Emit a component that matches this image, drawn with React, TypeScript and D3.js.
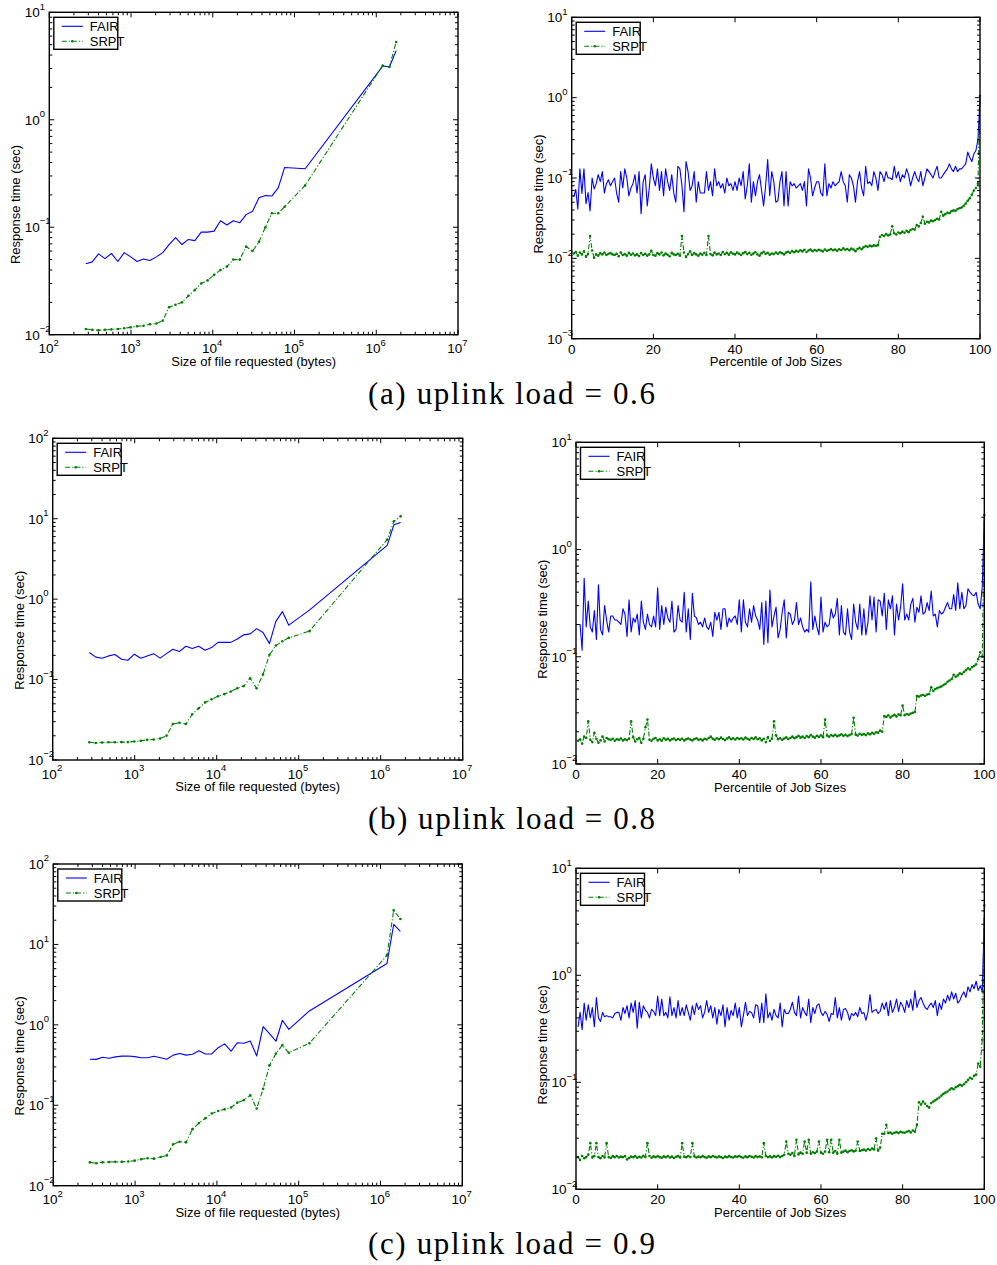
import React from 'react';
import * as d3 from 'd3';

// ---------- Data ----------
const FILE_SIZES = [280, 335, 400, 480, 575, 690, 825, 990, 1185, 1420, 1700, 2040, 2440, 2920, 3500, 4200, 5030, 6030, 7220, 8650, 10370, 12420, 14880, 17830, 21360, 25590, 30660, 36730, 44000, 52700, 63200, 75700, 135000, 1200000, 1450000, 1750000];

const FAIR_06_SIZE = [0.0458, 0.0476, 0.0565, 0.051, 0.057, 0.048, 0.058, 0.053, 0.048, 0.0507, 0.049, 0.053, 0.058, 0.069, 0.080, 0.069, 0.077, 0.075, 0.090, 0.090, 0.092, 0.115, 0.105, 0.115, 0.11, 0.131, 0.141, 0.188, 0.197, 0.195, 0.232, 0.36, 0.35, 3.16, 3.1, 4.4];
const SRPT_06_SIZE = [0.0113, 0.0111, 0.0110, 0.0111, 0.0112, 0.0113, 0.0115, 0.0117, 0.0120, 0.0121, 0.0125, 0.0127, 0.0135, 0.018, 0.019, 0.020, 0.023, 0.026, 0.030, 0.032, 0.036, 0.040, 0.043, 0.050, 0.050, 0.066, 0.060, 0.073, 0.10, 0.135, 0.135, 0.155, 0.245, 3.2, 3.1, 5.3];

const FAIR_08_SIZE = [0.217, 0.19, 0.184, 0.197, 0.205, 0.179, 0.174, 0.207, 0.184, 0.197, 0.21, 0.185, 0.21, 0.238, 0.223, 0.26, 0.243, 0.26, 0.232, 0.25, 0.29, 0.29, 0.29, 0.32, 0.36, 0.37, 0.43, 0.385, 0.28, 0.53, 0.70, 0.475, 0.73, 4.66, 8.4, 9.0];
const SRPT_08_SIZE = [0.0166, 0.0163, 0.0165, 0.0166, 0.0166, 0.0167, 0.0167, 0.0170, 0.0173, 0.0178, 0.0180, 0.0185, 0.020, 0.028, 0.029, 0.028, 0.037, 0.044, 0.052, 0.057, 0.062, 0.066, 0.071, 0.078, 0.083, 0.104, 0.078, 0.116, 0.203, 0.265, 0.30, 0.33, 0.40, 5.5, 9.3, 10.7];

const FAIR_09_SIZE = [0.374, 0.372, 0.396, 0.385, 0.40, 0.408, 0.41, 0.403, 0.39, 0.39, 0.408, 0.39, 0.374, 0.42, 0.44, 0.42, 0.43, 0.475, 0.435, 0.435, 0.52, 0.58, 0.47, 0.60, 0.59, 0.63, 0.41, 0.95, 0.78, 0.625, 1.14, 0.88, 1.49, 5.8, 17.7, 14.5];
const SRPT_09_SIZE = [0.0195, 0.019, 0.0195, 0.0197, 0.0198, 0.0198, 0.020, 0.0205, 0.0213, 0.0219, 0.0217, 0.0227, 0.0238, 0.0327, 0.0352, 0.0346, 0.0505, 0.060, 0.069, 0.079, 0.085, 0.089, 0.094, 0.108, 0.116, 0.133, 0.091, 0.16, 0.315, 0.44, 0.56, 0.45, 0.59, 7.3, 26.5, 20.7];

// percentiles 0.5 .. 100 (step 0.5)
const PERCENTILES = d3.range(1, 201).map((i) => i * 0.5);

const FAIR_06_PCT = [
  0.058, 0.072, 0.041, 0.13, 0.064, 0.13, 0.048, 0.066, 0.039, 0.10, 0.073, 0.085, 0.11, 0.09, 0.12, 0.065, 0.085, 0.095, 0.08, 0.09,
  0.10, 0.065, 0.05, 0.12, 0.075, 0.13, 0.10, 0.06, 0.075, 0.085, 0.11, 0.065, 0.12, 0.036, 0.09, 0.11, 0.045, 0.075, 0.15, 0.10,
  0.08, 0.13, 0.07, 0.12, 0.06, 0.13, 0.09, 0.07, 0.11, 0.065, 0.05, 0.14, 0.13, 0.08, 0.038, 0.16, 0.12, 0.07, 0.08, 0.12,
  0.05, 0.09, 0.065, 0.065, 0.065, 0.12, 0.07, 0.09, 0.06, 0.13, 0.08, 0.09, 0.075, 0.085, 0.065, 0.10, 0.08, 0.085, 0.07, 0.09,
  0.07, 0.10, 0.08, 0.12, 0.055, 0.08, 0.15, 0.05, 0.09, 0.06, 0.09, 0.11, 0.07, 0.045, 0.08, 0.17, 0.06, 0.12, 0.09, 0.05,
  0.052, 0.09, 0.12, 0.045, 0.12, 0.045, 0.09, 0.08, 0.085, 0.075, 0.08, 0.085, 0.07, 0.09, 0.045, 0.13, 0.10, 0.06, 0.075, 0.09,
  0.09, 0.065, 0.060, 0.15, 0.06, 0.085, 0.075, 0.09, 0.08, 0.085, 0.09, 0.12, 0.09, 0.08, 0.05, 0.11, 0.10, 0.08, 0.05, 0.09,
  0.12, 0.075, 0.06, 0.14, 0.085, 0.09, 0.08, 0.12, 0.10, 0.07, 0.12, 0.11, 0.09, 0.12, 0.10, 0.10, 0.095, 0.14, 0.10, 0.12,
  0.09, 0.11, 0.10, 0.13, 0.11, 0.08, 0.10, 0.12, 0.10, 0.09, 0.12, 0.08, 0.10, 0.13, 0.12, 0.11, 0.10, 0.12, 0.14, 0.10,
  0.10, 0.11, 0.12, 0.13, 0.15, 0.13, 0.12, 0.14, 0.12, 0.13, 0.13, 0.14, 0.15, 0.21, 0.18, 0.16, 0.2, 0.22, 0.3, 1.0,
];
const SRPT_06_PCT = [
  0.0115, 0.0120, 0.0108, 0.0118, 0.0112, 0.0122, 0.0105, 0.0113, 0.019, 0.0125, 0.0102, 0.0112, 0.0108, 0.0116, 0.0112, 0.0118, 0.0110, 0.0114, 0.0116, 0.0112,
  0.0110, 0.0114, 0.0106, 0.0118, 0.0110, 0.0113, 0.0108, 0.0117, 0.0111, 0.0115, 0.0109, 0.0112, 0.0107, 0.0116, 0.0110, 0.0114, 0.0108, 0.0112, 0.0124, 0.0110,
  0.0108, 0.0116, 0.0112, 0.0118, 0.0109, 0.0115, 0.0111, 0.0106, 0.0117, 0.0112, 0.0110, 0.0114, 0.0108, 0.019, 0.0118, 0.0104, 0.0113, 0.0122, 0.0110, 0.0116,
  0.0112, 0.0108, 0.0115, 0.0111, 0.0117, 0.0110, 0.019, 0.0113, 0.0109, 0.0118, 0.0112, 0.0115, 0.0110, 0.0120, 0.0113, 0.0117, 0.0111, 0.0119, 0.0114, 0.0112,
  0.0118, 0.0114, 0.0110, 0.0116, 0.0120, 0.0113, 0.0117, 0.0111, 0.0115, 0.0119, 0.0112, 0.0108, 0.0116, 0.0121, 0.0114, 0.0117, 0.0111, 0.0115, 0.0113, 0.0118,
  0.0114, 0.0119, 0.0116, 0.0112, 0.0118, 0.0121, 0.0117, 0.0123, 0.0119, 0.0124, 0.0121, 0.0126, 0.0122, 0.0128, 0.0120, 0.0125, 0.0129, 0.0123, 0.0127, 0.0124,
  0.0128, 0.0125, 0.0122, 0.0129, 0.0124, 0.0127, 0.0131, 0.0126, 0.0129, 0.0124, 0.0130, 0.0127, 0.0133, 0.0128, 0.0131, 0.0126, 0.0132, 0.0129, 0.0123, 0.0131,
  0.0135, 0.0130, 0.0137, 0.0142, 0.0139, 0.0144, 0.0141, 0.0145, 0.0143, 0.0146, 0.0185, 0.0195, 0.0190, 0.0200, 0.0193, 0.0198, 0.025, 0.0205, 0.0198, 0.0210,
  0.0205, 0.0215, 0.0208, 0.0220, 0.0212, 0.0225, 0.0232, 0.0228, 0.0260, 0.0250, 0.0275, 0.033, 0.0270, 0.0285, 0.0280, 0.0295, 0.0290, 0.0300, 0.0310, 0.0305,
  0.0380, 0.0340, 0.0355, 0.0370, 0.0365, 0.0385, 0.0395, 0.0390, 0.0410, 0.0420, 0.0430, 0.0450, 0.0480, 0.0520, 0.0560, 0.0620, 0.0700, 0.075, 0.085, 1.05,
];

const FAIR_08_PCT = [
  0.20, 0.20, 0.115, 0.54, 0.19, 0.33, 0.19, 0.17, 0.27, 0.145, 0.47, 0.18, 0.16, 0.30, 0.22, 0.17, 0.24, 0.24, 0.22, 0.22,
  0.21, 0.20, 0.28, 0.25, 0.155, 0.34, 0.17, 0.23, 0.21, 0.25, 0.16, 0.33, 0.21, 0.18, 0.25, 0.20, 0.19, 0.24, 0.19, 0.44,
  0.18, 0.30, 0.20, 0.29, 0.23, 0.21, 0.33, 0.17, 0.18, 0.30, 0.22, 0.21, 0.40, 0.17, 0.28, 0.145, 0.39, 0.24, 0.23, 0.20,
  0.21, 0.19, 0.23, 0.19, 0.18, 0.21, 0.155, 0.26, 0.22, 0.26, 0.18, 0.28, 0.28, 0.19, 0.23, 0.21, 0.23, 0.24, 0.20, 0.34,
  0.17, 0.34, 0.21, 0.19, 0.28, 0.21, 0.30, 0.24, 0.22, 0.18, 0.32, 0.13, 0.33, 0.135, 0.42, 0.19, 0.24, 0.29, 0.15, 0.18,
  0.26, 0.34, 0.15, 0.26, 0.25, 0.20, 0.22, 0.32, 0.20, 0.23, 0.19, 0.17, 0.18, 0.17, 0.50, 0.18, 0.24, 0.19, 0.16, 0.36,
  0.17, 0.21, 0.19, 0.20, 0.28, 0.23, 0.25, 0.35, 0.16, 0.30, 0.17, 0.16, 0.28, 0.17, 0.145, 0.31, 0.21, 0.18, 0.31, 0.16,
  0.28, 0.16, 0.21, 0.37, 0.22, 0.36, 0.17, 0.34, 0.33, 0.24, 0.39, 0.18, 0.34, 0.28, 0.37, 0.16, 0.31, 0.22, 0.29, 0.48,
  0.22, 0.25, 0.22, 0.31, 0.35, 0.21, 0.29, 0.26, 0.37, 0.25, 0.26, 0.32, 0.27, 0.41, 0.24, 0.25, 0.19, 0.27, 0.25, 0.26,
  0.29, 0.32, 0.28, 0.28, 0.38, 0.27, 0.49, 0.28, 0.40, 0.28, 0.30, 0.43, 0.40, 0.38, 0.37, 0.40, 0.31, 0.28, 0.45, 2.0,
];
const SRPT_08_PCT = [
  0.0165, 0.0170, 0.0155, 0.0180, 0.0175, 0.025, 0.0168, 0.0160, 0.0195, 0.0172, 0.0158, 0.0166, 0.0180, 0.0162, 0.0175, 0.0170, 0.0168, 0.0172, 0.0165, 0.0170,
  0.0168, 0.0173, 0.0166, 0.0170, 0.0167, 0.0172, 0.025, 0.0178, 0.0162, 0.0170, 0.0175, 0.0158, 0.0172, 0.022, 0.026, 0.0168, 0.0165, 0.0172, 0.0175, 0.0166,
  0.0170, 0.0165, 0.0174, 0.0168, 0.0172, 0.0166, 0.0170, 0.0173, 0.0167, 0.0171, 0.0168, 0.0172, 0.0166, 0.0170, 0.0173, 0.0169, 0.0166, 0.0171, 0.0174, 0.0168,
  0.0170, 0.0166, 0.0172, 0.0169, 0.0175, 0.0180, 0.0172, 0.0168, 0.0174, 0.0170, 0.0176, 0.0171, 0.0167, 0.0173, 0.0177, 0.0170, 0.0174, 0.0169, 0.0175, 0.0171,
  0.0174, 0.0169, 0.0176, 0.0172, 0.0168, 0.0175, 0.0171, 0.0177, 0.0170, 0.0174, 0.0166, 0.0172, 0.0160, 0.0178, 0.0165, 0.0172, 0.025, 0.0185, 0.0170, 0.0174,
  0.0168, 0.0173, 0.0177, 0.0171, 0.0175, 0.0180, 0.0174, 0.0178, 0.0183, 0.0176, 0.0180, 0.0175, 0.0182, 0.0178, 0.0186, 0.0180, 0.0176, 0.0183, 0.0179, 0.0185,
  0.0178, 0.026, 0.0184, 0.0180, 0.0186, 0.0182, 0.0187, 0.0181, 0.0185, 0.0189, 0.0183, 0.0187, 0.0182, 0.0186, 0.0190, 0.027, 0.0188, 0.0184, 0.0191, 0.0187,
  0.0190, 0.0186, 0.0193, 0.0189, 0.0195, 0.0191, 0.0198, 0.0196, 0.0205, 0.0200, 0.028, 0.0275, 0.0285, 0.0272, 0.0280, 0.0288, 0.0278, 0.0290, 0.0285, 0.035,
  0.0285, 0.0292, 0.0288, 0.0296, 0.0300, 0.0305, 0.043, 0.0425, 0.0435, 0.0440, 0.0432, 0.0445, 0.0450, 0.052, 0.0480, 0.0500, 0.0510, 0.0520, 0.0530, 0.0545,
  0.0560, 0.0585, 0.0600, 0.0620, 0.0680, 0.0650, 0.0670, 0.0700, 0.0690, 0.0720, 0.0750, 0.0780, 0.0760, 0.0800, 0.0820, 0.0850, 0.095, 0.110, 0.100, 2.1,
];

const FAIR_09_PCT = [
  0.33, 0.45, 0.31, 0.55, 0.38, 0.53, 0.40, 0.50, 0.33, 0.62, 0.40, 0.37, 0.45, 0.41, 0.42, 0.41, 0.41, 0.40, 0.44, 0.45,
  0.45, 0.38, 0.50, 0.44, 0.52, 0.40, 0.55, 0.45, 0.58, 0.32, 0.56, 0.40, 0.52, 0.47, 0.45, 0.40, 0.48, 0.46, 0.42, 0.64,
  0.42, 0.60, 0.42, 0.45, 0.40, 0.63, 0.42, 0.50, 0.40, 0.58, 0.42, 0.50, 0.42, 0.53, 0.45, 0.38, 0.52, 0.43, 0.55, 0.48,
  0.52, 0.40, 0.45, 0.58, 0.45, 0.52, 0.40, 0.50, 0.35, 0.48, 0.42, 0.53, 0.33, 0.50, 0.38, 0.47, 0.42, 0.55, 0.40, 0.50,
  0.33, 0.42, 0.56, 0.42, 0.46, 0.45, 0.40, 0.53, 0.52, 0.36, 0.55, 0.36, 0.67, 0.40, 0.45, 0.38, 0.48, 0.42, 0.40, 0.55,
  0.33, 0.48, 0.44, 0.44, 0.48, 0.56, 0.45, 0.42, 0.64, 0.40, 0.50, 0.45, 0.42, 0.60, 0.36, 0.50, 0.44, 0.52, 0.54, 0.45,
  0.42, 0.46, 0.43, 0.37, 0.44, 0.43, 0.62, 0.40, 0.50, 0.38, 0.48, 0.49, 0.45, 0.38, 0.44, 0.42, 0.45, 0.41, 0.50, 0.44,
  0.45, 0.38, 0.45, 0.66, 0.45, 0.47, 0.48, 0.44, 0.46, 0.55, 0.48, 0.56, 0.42, 0.58, 0.45, 0.50, 0.60, 0.46, 0.56, 0.52,
  0.45, 0.58, 0.50, 0.60, 0.47, 0.72, 0.50, 0.58, 0.62, 0.55, 0.50, 0.48, 0.52, 0.55, 0.50, 0.58, 0.42, 0.55, 0.48, 0.60,
  0.55, 0.65, 0.58, 0.70, 0.60, 0.68, 0.55, 0.58, 0.65, 0.70, 0.62, 0.78, 0.70, 0.82, 0.75, 0.88, 0.72, 0.80, 0.70, 3.5,
];
const SRPT_09_PCT = [
  0.0200, 0.0188, 0.0205, 0.0195, 0.0200, 0.0210, 0.027, 0.0198, 0.0205, 0.027, 0.0200, 0.0195, 0.0205, 0.0198, 0.027, 0.0200, 0.0196, 0.0204, 0.0199, 0.0205,
  0.0198, 0.0202, 0.0200, 0.0205, 0.0190, 0.0196, 0.0202, 0.0199, 0.0204, 0.0197, 0.0201, 0.0198, 0.0206, 0.0200, 0.027, 0.0205, 0.0197, 0.0203, 0.0199, 0.0204,
  0.0200, 0.0197, 0.0203, 0.0199, 0.0205, 0.0198, 0.0202, 0.0196, 0.0201, 0.0204, 0.0198, 0.027, 0.0202, 0.0199, 0.0205, 0.0200, 0.027, 0.0203, 0.0198, 0.0202,
  0.0199, 0.0204, 0.0200, 0.0197, 0.0203, 0.0199, 0.0205, 0.0201, 0.0198, 0.0203, 0.0200, 0.0196, 0.0202, 0.0199, 0.0204, 0.0200, 0.0198, 0.0203, 0.0201, 0.0205,
  0.0200, 0.0197, 0.0203, 0.0199, 0.0205, 0.0201, 0.0198, 0.0204, 0.0200, 0.0203, 0.0199, 0.027, 0.0205, 0.0200, 0.0203, 0.0198, 0.0204, 0.0201, 0.0206, 0.0200,
  0.0205, 0.0210, 0.028, 0.0215, 0.0210, 0.0218, 0.0205, 0.029, 0.0212, 0.0220, 0.0215, 0.028, 0.0220, 0.029, 0.0215, 0.0222, 0.0218, 0.0225, 0.028, 0.0220,
  0.0215, 0.0225, 0.029, 0.0222, 0.029, 0.0220, 0.0228, 0.0215, 0.029, 0.0220, 0.0225, 0.0230, 0.0222, 0.0228, 0.0232, 0.0226, 0.0230, 0.028, 0.0228, 0.0232,
  0.0235, 0.0230, 0.0238, 0.0233, 0.0240, 0.0236, 0.030, 0.0230, 0.0245, 0.033, 0.0330, 0.040, 0.0335, 0.0340, 0.0330, 0.0338, 0.0342, 0.0335, 0.0345, 0.0340,
  0.0338, 0.0345, 0.0350, 0.0340, 0.0355, 0.0345, 0.040, 0.065, 0.062, 0.066, 0.063, 0.060, 0.058, 0.064, 0.066, 0.068, 0.070, 0.072, 0.075, 0.078,
  0.080, 0.082, 0.085, 0.088, 0.086, 0.090, 0.092, 0.095, 0.093, 0.096, 0.100, 0.105, 0.110, 0.108, 0.115, 0.118, 0.150, 0.140, 0.250, 4.5,
];

const CAPTIONS = ['(a) uplink load = 0.6', '(b) uplink load = 0.8', '(c) uplink load = 0.9'];
const SERIES_NAMES = ['FAIR', 'SRPT'];
const X_LABEL_SIZE = 'Size of file requested (bytes)';
const X_LABEL_PCT = 'Percentile of Job Sizes';
const Y_LABEL = 'Response time (sec)';
const PCT_TICKS = [0, 20, 40, 60, 80, 100];

// ---------- Layout ----------
type PanelCfg = {
  kind: 'size' | 'pct';
  box: [number, number, number, number];
  yDomain: [number, number];
  xs: number[];
  fair: number[];
  srpt: number[];
};

const PANELS: PanelCfg[] = [
  { kind: 'size', box: [49.3, 12.3, 458, 334.7], yDomain: [1e-2, 1e1], xs: FILE_SIZES, fair: FAIR_06_SIZE, srpt: SRPT_06_SIZE },
  { kind: 'pct', box: [571.7, 17.3, 980, 338.7], yDomain: [1e-3, 1e1], xs: PERCENTILES, fair: FAIR_06_PCT, srpt: SRPT_06_PCT },
  { kind: 'size', box: [52.7, 438.3, 462.7, 760], yDomain: [1e-2, 1e2], xs: FILE_SIZES, fair: FAIR_08_SIZE, srpt: SRPT_08_SIZE },
  { kind: 'pct', box: [576, 442.3, 984.3, 764], yDomain: [1e-2, 1e1], xs: PERCENTILES, fair: FAIR_08_PCT, srpt: SRPT_08_PCT },
  { kind: 'size', box: [53.3, 864, 462.3, 1185.7], yDomain: [1e-2, 1e2], xs: FILE_SIZES, fair: FAIR_09_SIZE, srpt: SRPT_09_SIZE },
  { kind: 'pct', box: [576, 868.3, 984.3, 1189.3], yDomain: [1e-2, 1e1], xs: PERCENTILES, fair: FAIR_09_PCT, srpt: SRPT_09_PCT },
];
const CAPTION_Y = [404, 829, 1254];

const SANS = '"Liberation Sans", Arial, Helvetica, sans-serif';
const BLUE = '#0000ff';
const GREEN = '#007f00';
const FS = 13.5;
const SUP = 9.5;

function exponentStr(v: number) {
  const e = Math.round(Math.log10(v));
  return e < 0 ? '\u2212' + Math.abs(e) : String(e);
}

function isMajor(v: number) {
  const l = Math.log10(v);
  return Math.abs(l - Math.round(l)) < 1e-9;
}

function Panel({ p }: { p: PanelCfg }) {
  const [x0, y0, x1, y1] = p.box;
  const y = d3.scaleLog().domain(p.yDomain).range([y1, y0]);
  const xLog = d3.scaleLog().domain([1e2, 1e7]).range([x0, x1]);
  const xLin = d3.scaleLinear().domain([0, 100]).range([x0, x1]);
  const x = (v: number) => (p.kind === 'size' ? xLog(v) : xLin(v));

  const fairPts: [number, number][] = p.xs.map((v, i) => [v, p.fair[i]]);
  const srptPts: [number, number][] = p.xs.map((v, i) => [v, p.srpt[i]]);
  const line = d3
    .line<[number, number]>()
    .x((d) => x(d[0]))
    .y((d) => y(d[1]));

  const yTicks = y.ticks(20);
  const xTicksLog = xLog.ticks(20);

  const majLen = 5;
  const minLen = 3;
  const tickEls: JSX.Element[] = [];
  yTicks.forEach((t, i) => {
    const len = isMajor(t) ? majLen : minLen;
    const ty = y(t);
    if (ty < y0 - 0.1 || ty > y1 + 0.1) return;
    tickEls.push(<line key={'yl' + i} x1={x0} x2={x0 + len} y1={ty} y2={ty} />);
    tickEls.push(<line key={'yr' + i} x1={x1} x2={x1 - len} y1={ty} y2={ty} />);
  });
  if (p.kind === 'size') {
    xTicksLog.forEach((t, i) => {
      const len = isMajor(t) ? majLen : minLen;
      const tx = xLog(t);
      tickEls.push(<line key={'xb' + i} x1={tx} x2={tx} y1={y1} y2={y1 - len} />);
      tickEls.push(<line key={'xt' + i} x1={tx} x2={tx} y1={y0} y2={y0 + len} />);
    });
  } else {
    PCT_TICKS.forEach((t, i) => {
      const tx = xLin(t);
      tickEls.push(<line key={'xb' + i} x1={tx} x2={tx} y1={y1} y2={y1 - majLen} />);
      tickEls.push(<line key={'xt' + i} x1={tx} x2={tx} y1={y0} y2={y0 + majLen} />);
    });
  }

  const yLabels = yTicks.filter(isMajor).map((t, i) => {
    const ty = y(t);
    const ax = x0 - 9.5;
    return (
      <g key={'ylab' + i} fontFamily={SANS} fill="#000">
        <text x={ax} y={ty + 4.8} fontSize={FS} textAnchor="end">10</text>
        <text x={ax} y={ty - 2.8} fontSize={SUP} textAnchor="start">{exponentStr(t)}</text>
      </g>
    );
  });

  const xLabels =
    p.kind === 'size'
      ? xTicksLog.filter(isMajor).map((t, i) => {
          const tx = xLog(t);
          return (
            <g key={'xlab' + i} fontFamily={SANS} fill="#000">
              <text x={tx + 4.2} y={y1 + 18.5} fontSize={FS} textAnchor="end">10</text>
              <text x={tx + 4.2} y={y1 + 10.8} fontSize={SUP} textAnchor="start">{exponentStr(t)}</text>
            </g>
          );
        })
      : PCT_TICKS.map((t, i) => (
          <text key={'xlab' + i} x={xLin(t)} y={y1 + 15} fontSize={FS} textAnchor="middle" fontFamily={SANS}>
            {t}
          </text>
        ));

  const cx = (x0 + x1) / 2;
  const cyLabel = (y0 + y1) / 2 + (p.kind === 'size' ? 31 : 16);
  const lx = x0 + 4.5;
  const ly = y0 + 5;

  return (
    <g>
      <path d={line(fairPts) || ''} fill="none" stroke={BLUE} strokeWidth={1.1} strokeLinejoin="round" />
      <path d={line(srptPts) || ''} fill="none" stroke={GREEN} strokeWidth={1.1} strokeDasharray="5,2,1.2,2" />
      {srptPts.map((d, i) => (
        <circle key={'m' + i} cx={x(d[0])} cy={y(d[1])} r={1.3} fill={GREEN} />
      ))}
      <rect x={x0} y={y0} width={x1 - x0} height={y1 - y0} fill="none" stroke="#000" strokeWidth={1.4} />
      <g stroke="#000" strokeWidth={1}>{tickEls}</g>
      {yLabels}
      {xLabels}
      <text x={cx} y={y1 + (p.kind === 'size' ? 31 : 27.5)} fontSize={13} textAnchor="middle" fontFamily={SANS}>
        {p.kind === 'size' ? X_LABEL_SIZE : X_LABEL_PCT}
      </text>
      <text
        transform={`translate(${x0 - 29},${cyLabel}) rotate(-90)`}
        fontSize={13}
        textAnchor="middle"
        fontFamily={SANS}
      >
        {Y_LABEL}
      </text>
      {/* legend */}
      <rect x={lx} y={ly} width={64} height={32} fill="#fff" stroke="#000" strokeWidth={1.4} />
      <line x1={lx + 8} x2={lx + 29} y1={ly + 9} y2={ly + 9} stroke={BLUE} strokeWidth={1.1} />
      <line x1={lx + 8} x2={lx + 29} y1={ly + 24} y2={ly + 24} stroke={GREEN} strokeWidth={1.1} strokeDasharray="5,2,1.2,2" />
      <circle cx={lx + 18.5} cy={ly + 24} r={1.3} fill={GREEN} />
      <text x={lx + 36} y={ly + 13.6} fontSize={13} fontFamily={SANS}>{SERIES_NAMES[0]}</text>
      <text x={lx + 36} y={ly + 28.6} fontSize={13} fontFamily={SANS}>{SERIES_NAMES[1]}</text>
    </g>
  );
}

export default function App() {
  return (
    <svg
      width={997}
      height={1265}
      viewBox="0 0 997 1265"
      style={{ position: 'absolute', left: 0, top: 0, background: '#fff' }}
    >
      <rect x={0} y={0} width={997} height={1265} fill="#fff" />
      {PANELS.map((p, i) => (
        <Panel key={i} p={p} />
      ))}
      {CAPTIONS.map((c, i) => (
        <text
          key={'cap' + i}
          x={511.5}
          y={CAPTION_Y[i]}
          fontSize={31}
          textAnchor="middle"
          fontFamily='"Liberation Serif", "Times New Roman", serif'
          textLength={287}
          lengthAdjust="spacing"
        >
          {c}
        </text>
      ))}
    </svg>
  );
}
